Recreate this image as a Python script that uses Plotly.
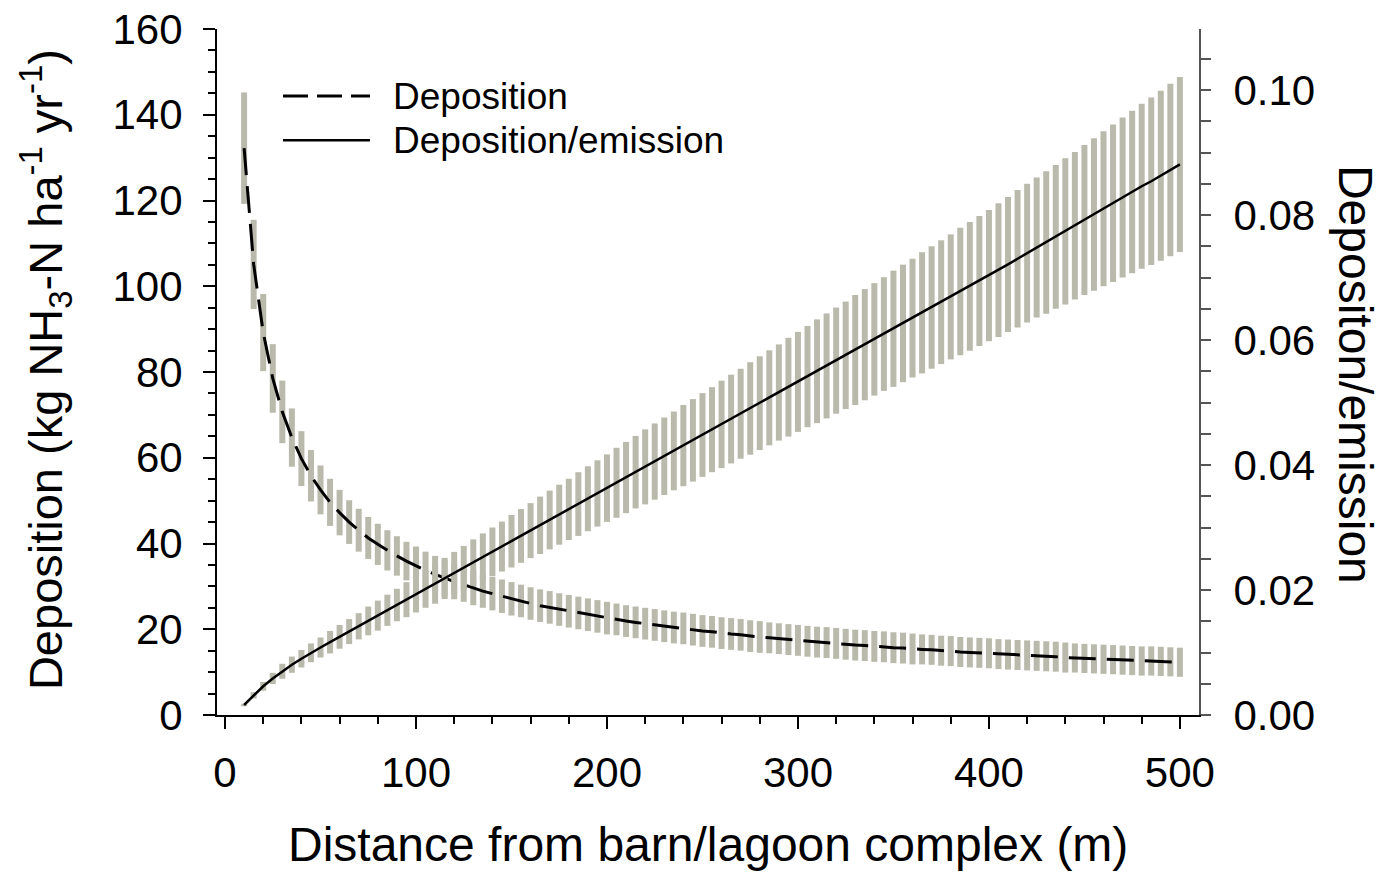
import plotly.graph_objects as go

# ---------------- data ----------------
distance = list(range(10, 505, 5))  # m, 10 .. 500 every 5 m

deposition = [
    132.2, 105.1, 89.2, 78.5, 70.7, 64.7, 59.8, 55.8, 52.5, 49.6,
    47.2, 45.0, 43.1, 41.3, 39.8, 38.4, 37.1, 35.9, 34.8, 33.7,
    32.8, 31.9, 31.1, 30.4, 29.6, 28.9, 28.3, 27.7, 27.1, 26.6,
    26.0, 25.5, 25.1, 24.6, 24.2, 23.8, 23.4, 23.0, 22.6, 22.3,
    21.9, 21.6, 21.3, 21.0, 20.7, 20.4, 20.2, 19.9, 19.6, 19.4,
    19.1, 18.9, 18.7, 18.4, 18.2, 18.0, 17.8, 17.6, 17.4, 17.2,
    17.0, 16.9, 16.7, 16.5, 16.3, 16.2, 16.0, 15.9, 15.7, 15.6,
    15.4, 15.3, 15.2, 15.0, 14.9, 14.7, 14.6, 14.5, 14.4, 14.2,
    14.1, 14.0, 13.9, 13.8, 13.7, 13.6, 13.4, 13.3, 13.2, 13.1,
    13.0, 12.9, 12.8, 12.7, 12.6, 12.6, 12.5, 12.4, 12.3,
]

deposition_err = [
    13.0, 10.4, 9.0, 8.0, 7.3, 6.8, 6.4, 6.0, 5.7, 5.5,
    5.3, 5.1, 5.0, 4.9, 4.8, 4.7, 4.6, 4.5, 4.5, 4.4,
    4.3, 4.2, 4.1, 4.0, 4.0, 3.9, 3.9, 3.9, 3.9, 3.8,
    3.8, 3.8, 3.8, 3.8, 3.8, 3.8, 3.8, 3.8, 3.8, 3.7,
    3.7, 3.7, 3.7, 3.7, 3.7, 3.7, 3.7, 3.7, 3.7, 3.7,
    3.7, 3.7, 3.7, 3.7, 3.7, 3.6, 3.6, 3.6, 3.6, 3.6,
    3.6, 3.6, 3.6, 3.6, 3.6, 3.6, 3.6, 3.6, 3.6, 3.6,
    3.6, 3.5, 3.5, 3.5, 3.5, 3.5, 3.5, 3.5, 3.5, 3.5,
    3.5, 3.5, 3.5, 3.5, 3.5, 3.5, 3.5, 3.4, 3.4, 3.4,
    3.4, 3.4, 3.4, 3.4, 3.4, 3.4, 3.4, 3.4, 3.4,
]

ratio = [
    0.0016, 0.00315, 0.0046, 0.00585, 0.0070, 0.00805, 0.0090, 0.00995, 0.0108, 0.01165,
    0.0125, 0.01335, 0.0142, 0.01505, 0.0159, 0.01675, 0.0176, 0.01845, 0.0193, 0.02015,
    0.0210, 0.02185, 0.0227, 0.02355, 0.0244, 0.02525, 0.0261, 0.02695, 0.0278, 0.02865,
    0.0295, 0.03035, 0.0312, 0.03205, 0.0329, 0.03375, 0.0346, 0.03545, 0.0363, 0.03715,
    0.0380, 0.03885, 0.0397, 0.04055, 0.0414, 0.04225, 0.0431, 0.04395, 0.0448, 0.04565,
    0.0465, 0.04735, 0.0482, 0.04905, 0.0499, 0.05075, 0.0516, 0.05245, 0.0533, 0.05415,
    0.0550, 0.05585, 0.0567, 0.05755, 0.0584, 0.05925, 0.0601, 0.06095, 0.0618, 0.06265,
    0.0635, 0.06435, 0.0652, 0.06605, 0.0669, 0.06775, 0.0686, 0.06945, 0.0703, 0.0712,
    0.0721, 0.0730, 0.0739, 0.0748, 0.0756, 0.0765, 0.0774, 0.0783, 0.0792, 0.0801,
    0.0810, 0.0819, 0.0828, 0.0837, 0.0846, 0.0854, 0.0863, 0.0872, 0.0881,
]

ratio_err = [
    0.0002, 0.0005, 0.0007, 0.0009, 0.0012, 0.0013, 0.0014, 0.0015, 0.0016, 0.0018,
    0.0019, 0.0020, 0.0021, 0.0023, 0.0024, 0.0025, 0.0026, 0.0028, 0.0029, 0.0030,
    0.0032, 0.0033, 0.0034, 0.0035, 0.0037, 0.0038, 0.0039, 0.0040, 0.0042, 0.0043,
    0.0044, 0.0046, 0.0047, 0.0048, 0.0049, 0.0051, 0.0052, 0.0053, 0.0054, 0.0056,
    0.0057, 0.0058, 0.0060, 0.0061, 0.0062, 0.0063, 0.0065, 0.0066, 0.0067, 0.0068,
    0.0070, 0.0071, 0.0072, 0.0074, 0.0075, 0.0076, 0.0077, 0.0079, 0.0080, 0.0081,
    0.0083, 0.0084, 0.0085, 0.0086, 0.0088, 0.0089, 0.0090, 0.0091, 0.0093, 0.0094,
    0.0095, 0.0097, 0.0098, 0.0099, 0.0100, 0.0102, 0.0103, 0.0104, 0.0105, 0.0107,
    0.0108, 0.0110, 0.0111, 0.0112, 0.0114, 0.0115, 0.0117, 0.0118, 0.0120, 0.0122,
    0.0124, 0.0126, 0.0128, 0.0130, 0.0132, 0.0134, 0.0136, 0.0138, 0.0140,
]

series_names = ["Deposition", "Deposition/emission"]
x_title = "Distance from barn/lagoon complex (m)"
y_title = "Deposition (kg NH<sub>3</sub>-N ha<sup>-1</sup> yr<sup>-1</sup>)"
y2_title = "Depositon/emission"

# ---------------- styling ----------------
FONT = "Liberation Sans, Arial, Helvetica, sans-serif"
BAR = "rgb(186,186,172)"
DASH = "27px,11px"

fig = go.Figure()

fig.add_trace(go.Scatter(
    x=distance, y=deposition, mode="lines", name=series_names[0],
    line=dict(color="black", width=3, dash=DASH),
    error_y=dict(type="data", array=deposition_err, color=BAR, thickness=6, width=0),
    yaxis="y", showlegend=False,
))
fig.add_trace(go.Scatter(
    x=distance, y=ratio, mode="lines", name=series_names[1],
    line=dict(color="black", width=2.5),
    error_y=dict(type="data", array=ratio_err, color=BAR, thickness=6, width=0),
    yaxis="y2", showlegend=False,
))

fig.update_layout(
    template="none",
    width=1385, height=873,
    margin=dict(l=217, r=186, t=29, b=158, pad=0, autoexpand=False),
    paper_bgcolor="white", plot_bgcolor="white",
    font=dict(family=FONT, color="black"),
    xaxis=dict(
        automargin=False,
        range=[-4.2, 510], tick0=0, dtick=100,
        showgrid=False, zeroline=False,
        showline=True, linecolor="black", linewidth=2,
        ticks="outside", ticklen=12, tickwidth=2, tickcolor="black",
        minor=dict(tick0=0, dtick=20, ticks="outside", ticklen=7, tickwidth=1.5, tickcolor="black",
                   showgrid=False),
        tickfont=dict(size=42, family=FONT, color="black"),
        ticklabelstandoff=8,
    ),
    yaxis=dict(
        automargin=False,
        range=[0, 160], tick0=0, dtick=20,
        showgrid=False, zeroline=False,
        showline=True, linecolor="black", linewidth=2,
        ticks="outside", ticklen=12, tickwidth=2, tickcolor="black",
        minor=dict(tick0=0, dtick=5, ticks="outside", ticklen=7, tickwidth=1.5, tickcolor="black",
                   showgrid=False),
        tickfont=dict(size=42, family=FONT, color="black"),
        ticklabelstandoff=12,
    ),
    yaxis2=dict(
        automargin=False,
        overlaying="y", side="right", anchor="x",
        range=[0, 0.10976], tick0=0, dtick=0.02, tickformat=".2f",
        showgrid=False, zeroline=False,
        showline=True, linecolor="#555555", linewidth=2,
        ticks="outside", ticklen=10, tickwidth=1.5, tickcolor="#555555",
        minor=dict(tick0=0, dtick=0.005, ticks="outside", ticklen=10, tickwidth=1.5, tickcolor="#555555",
                   showgrid=False),
        tickfont=dict(size=42, family=FONT, color="black"),
        ticklabelstandoff=14,
    ),
    annotations=[
        dict(text=x_title, xref="paper", yref="paper", x=0.5, y=-0.189,
             xanchor="center", yanchor="middle", showarrow=False,
             font=dict(size=48, family=FONT, color="black")),
        dict(text=y_title, xref="paper", yref="paper", x=-0.174, y=0.503,
             xanchor="center", yanchor="middle", textangle=-90, showarrow=False,
             font=dict(size=47, family=FONT, color="black")),
        dict(text=y2_title, xref="paper", yref="paper", x=1.16, y=0.497,
             xanchor="center", yanchor="middle", textangle=90, showarrow=False,
             font=dict(size=48, family=FONT, color="black")),
        dict(text=series_names[0], xref="paper", yref="paper", x=0.1772, y=0.9022,
             xanchor="left", yanchor="middle", showarrow=False,
             font=dict(size=37, family=FONT, color="black")),
        dict(text=series_names[1], xref="paper", yref="paper", x=0.1772, y=0.838,
             xanchor="left", yanchor="middle", showarrow=False,
             font=dict(size=37, family=FONT, color="black")),
    ],
    shapes=[
        dict(type="line", xref="paper", yref="paper", x0=0.0672, x1=0.1558, y0=0.9022, y1=0.9022,
             line=dict(color="black", width=3, dash="25px,9px")),
        dict(type="line", xref="paper", yref="paper", x0=0.0672, x1=0.1558, y0=0.838, y1=0.838,
             line=dict(color="black", width=2.5)),
    ],
)

fig.write_html("out.html")
